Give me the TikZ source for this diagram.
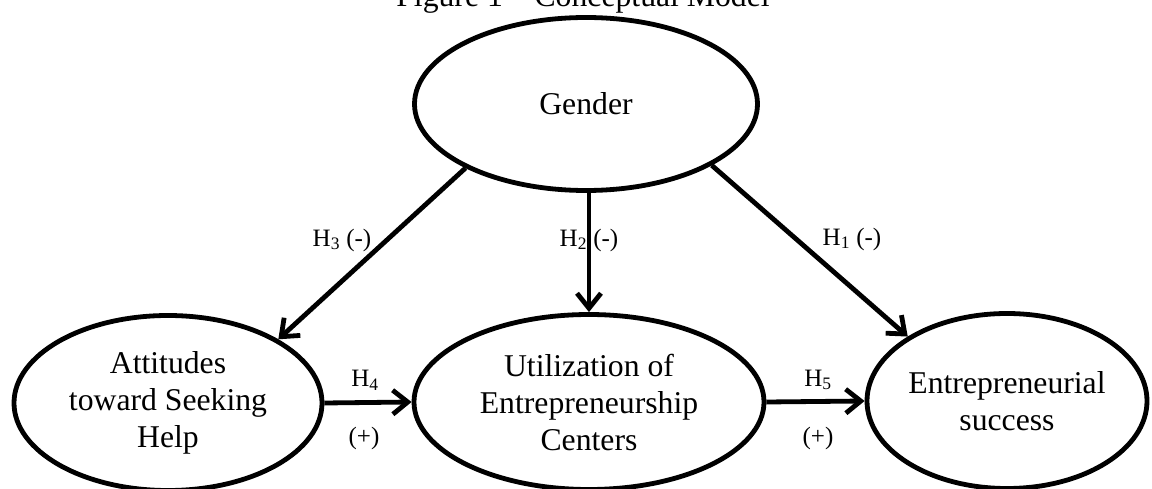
\documentclass[tikz,border=0pt]{standalone}
\usepackage{fontspec}
\setmainfont{Liberation Serif}
\usetikzlibrary{shapes.geometric,arrows.meta}
\begin{document}
\begin{tikzpicture}[x=1pt,y=-1pt,
  var/.style={draw, ellipse, line width=4.8pt, inner sep=0pt, align=center,
    font=\fontsize{31.7}{37}\selectfont},
  link/.style={line width=4.8pt, -{Straight Barb[length=15pt,width=24pt]}},
  lbl/.style={font=\fontsize{25}{30}\selectfont, inner sep=0pt}]
\useasboundingbox (0,0) rectangle (1152,489);
\node[font=\fontsize{31.7}{37}\selectfont, anchor=base] (t) at (583,7) {Figure 1 -- Conceptual Model};
\node[var, minimum width=343pt, minimum height=173pt] (g) at (586,104) {Gender};
\node[var, minimum width=308pt, minimum height=175pt] (a) at (168,403) {Attitudes\\toward Seeking\\Help};
\node[var, minimum width=350pt, minimum height=175pt] (u) at (589,402) {Utilization of\\Entrepreneurship\\Centers};
\node[var, minimum width=280pt, minimum height=175pt] (s) at (1007,401) {Entrepreneurial\\success};
\draw[link] (g.208) -- (a.30);
\draw[link] (u.north |- g.south) -- (u.north);
\draw[link] (g.334) -- (s.147);
\draw[link] (a.east) -- (u.west);
\draw[link] (u.east) -- (s.west);
\node[lbl] (l3) at (342,240) {H\textsubscript{3} (-)};
\node[lbl] (l2) at (589,240) {H\textsubscript{2} (-)};
\node[lbl] (l1) at (852,239) {H\textsubscript{1} (-)};
\node[lbl] (l4) at (365,380) {H\textsubscript{4}};
\node[lbl] (p4) at (364,438) {(+)};
\node[lbl] (l5) at (818,380) {H\textsubscript{5}};
\node[lbl] (p5) at (818,438) {(+)};
\end{tikzpicture}
\end{document}
